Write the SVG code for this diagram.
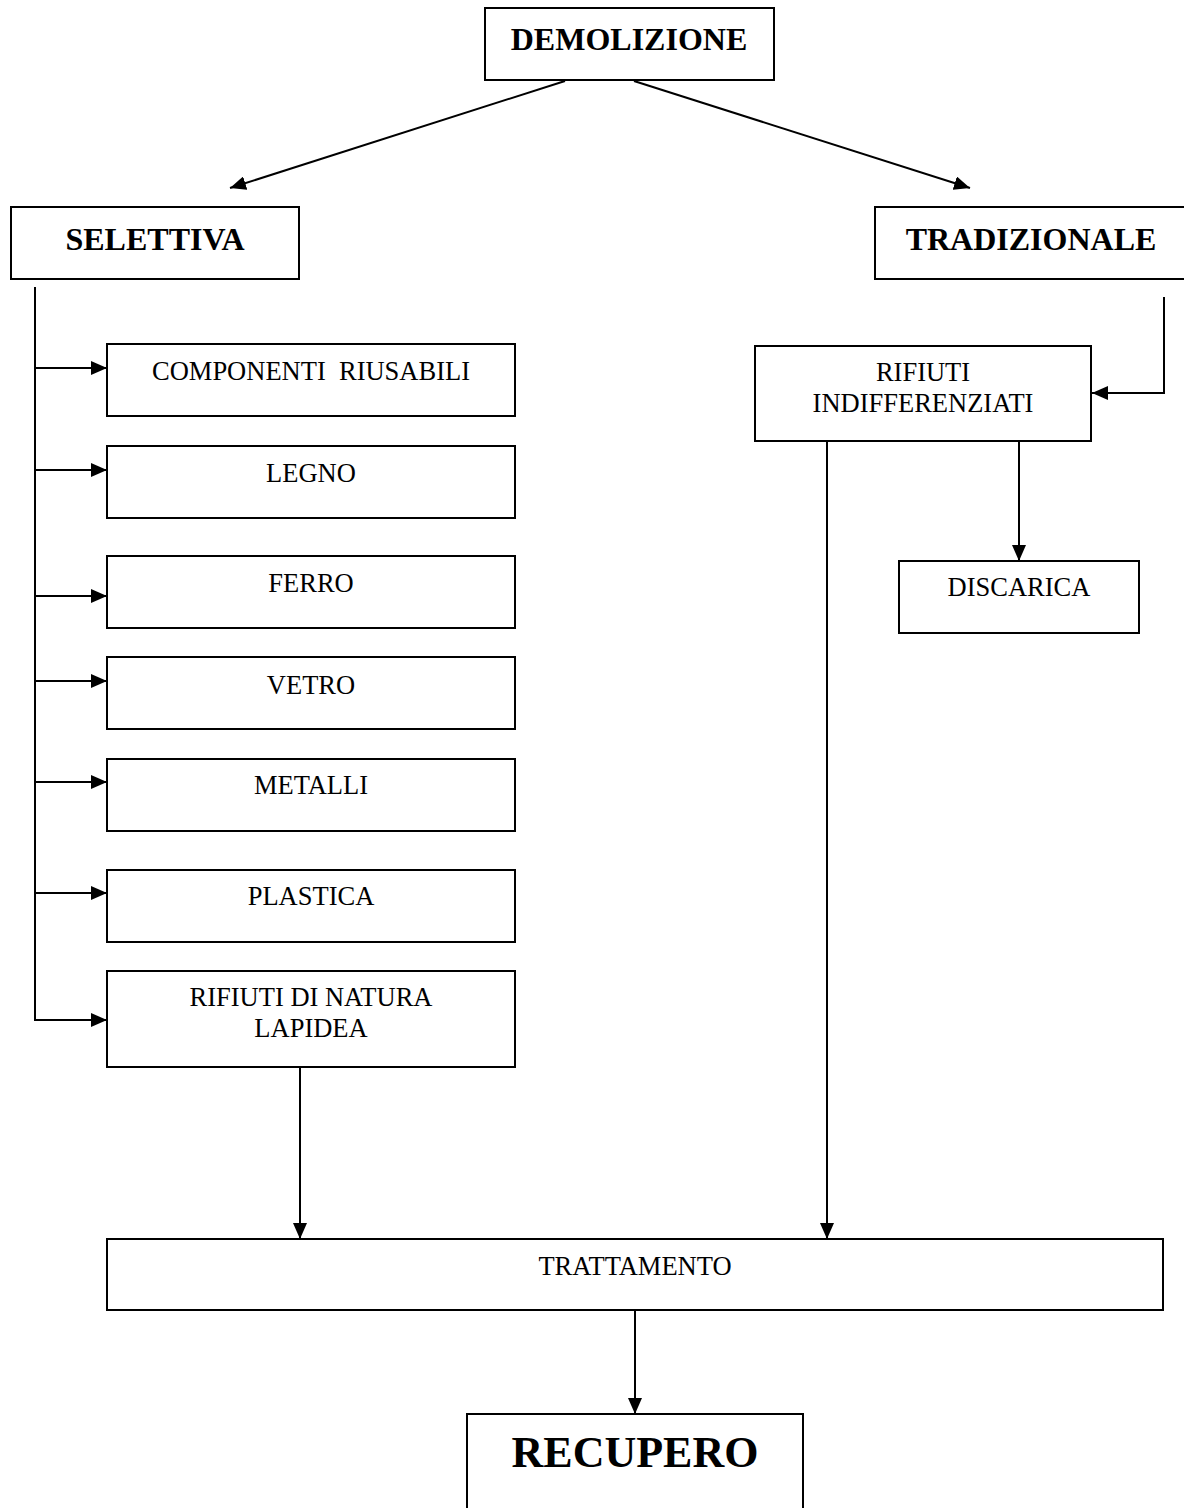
<svg xmlns="http://www.w3.org/2000/svg" width="1184" height="1508" viewBox="0 0 1184 1508">
<style>
.box{fill:#fff;stroke:#000;stroke-width:2}
.t{font-family:"Liberation Serif","Times New Roman",serif;font-size:26.5px;text-anchor:middle;fill:#000}
.b{font-family:"Liberation Serif","Times New Roman",serif;font-size:32px;font-weight:bold;text-anchor:middle;fill:#000}
.c{stroke:#000;stroke-width:2;fill:none}
</style>
<defs>
<marker id="a" markerWidth="16" markerHeight="14" refX="16" refY="7" orient="auto" markerUnits="userSpaceOnUse">
<path d="M0,0 L16,7 L0,14 Z" fill="#000"/>
</marker>
</defs>
<rect width="1184" height="1508" fill="#fff"/>
<g id="connectors">
<line class="c" x1="565" y1="81" x2="230" y2="188" marker-end="url(#a)"/>
<line class="c" x1="634" y1="81" x2="970" y2="188" marker-end="url(#a)"/>
<line class="c" x1="35" y1="287" x2="35" y2="1021"/>
<line class="c" x1="34" y1="368" x2="107" y2="368" marker-end="url(#a)"/>
<line class="c" x1="34" y1="470" x2="107" y2="470" marker-end="url(#a)"/>
<line class="c" x1="34" y1="596" x2="107" y2="596" marker-end="url(#a)"/>
<line class="c" x1="34" y1="681" x2="107" y2="681" marker-end="url(#a)"/>
<line class="c" x1="34" y1="782" x2="107" y2="782" marker-end="url(#a)"/>
<line class="c" x1="34" y1="893" x2="107" y2="893" marker-end="url(#a)"/>
<line class="c" x1="34" y1="1020" x2="107" y2="1020" marker-end="url(#a)"/>
<line class="c" x1="300" y1="1064" x2="300" y2="1239" marker-end="url(#a)"/>
<line class="c" x1="635" y1="1311" x2="635" y2="1414" marker-end="url(#a)"/>
<polyline class="c" points="1164,297 1164,393 1092,393" marker-end="url(#a)"/>
<line class="c" x1="1019" y1="441" x2="1019" y2="561" marker-end="url(#a)"/>
<line class="c" x1="827" y1="441" x2="827" y2="1239" marker-end="url(#a)"/>
</g>
<g id="demolizione"><rect class="box" x="485" y="8" width="289" height="72"/><text class="b" x="629" y="50">DEMOLIZIONE</text></g>
<g id="selettiva"><rect class="box" x="11" y="207" width="288" height="72"/><text class="b" x="155" y="250">SELETTIVA</text></g>
<g id="tradizionale"><rect class="box" x="875" y="207" width="320" height="72"/><text class="b" x="1031" y="250">TRADIZIONALE</text></g>
<g id="componenti"><rect class="box" x="107" y="344" width="408" height="72"/><text class="t" x="311" y="380" xml:space="preserve">COMPONENTI  RIUSABILI</text></g>
<g id="legno"><rect class="box" x="107" y="446" width="408" height="72"/><text class="t" x="311" y="482">LEGNO</text></g>
<g id="ferro"><rect class="box" x="107" y="556" width="408" height="72"/><text class="t" x="311" y="592">FERRO</text></g>
<g id="vetro"><rect class="box" x="107" y="657" width="408" height="72"/><text class="t" x="311" y="694">VETRO</text></g>
<g id="metalli"><rect class="box" x="107" y="759" width="408" height="72"/><text class="t" x="311" y="794">METALLI</text></g>
<g id="plastica"><rect class="box" x="107" y="870" width="408" height="72"/><text class="t" x="311" y="905">PLASTICA</text></g>
<g id="lapidea"><rect class="box" x="107" y="971" width="408" height="96"/><text class="t" x="311" y="1006">RIFIUTI DI NATURA</text><text class="t" x="311" y="1037">LAPIDEA</text></g>
<g id="indifferenziati"><rect class="box" x="755" y="346" width="336" height="95"/><text class="t" x="923" y="381">RIFIUTI</text><text class="t" x="923" y="412">INDIFFERENZIATI</text></g>
<g id="discarica"><rect class="box" x="899" y="561" width="240" height="72"/><text class="t" x="1019" y="596">DISCARICA</text></g>
<g id="trattamento"><rect class="box" x="107" y="1239" width="1056" height="71"/><text class="t" x="635" y="1275">TRATTAMENTO</text></g>
<g id="recupero"><rect class="box" x="467" y="1414" width="336" height="110"/><text class="b" x="635" y="1467" style="font-size:44px">RECUPERO</text></g>
</svg>
